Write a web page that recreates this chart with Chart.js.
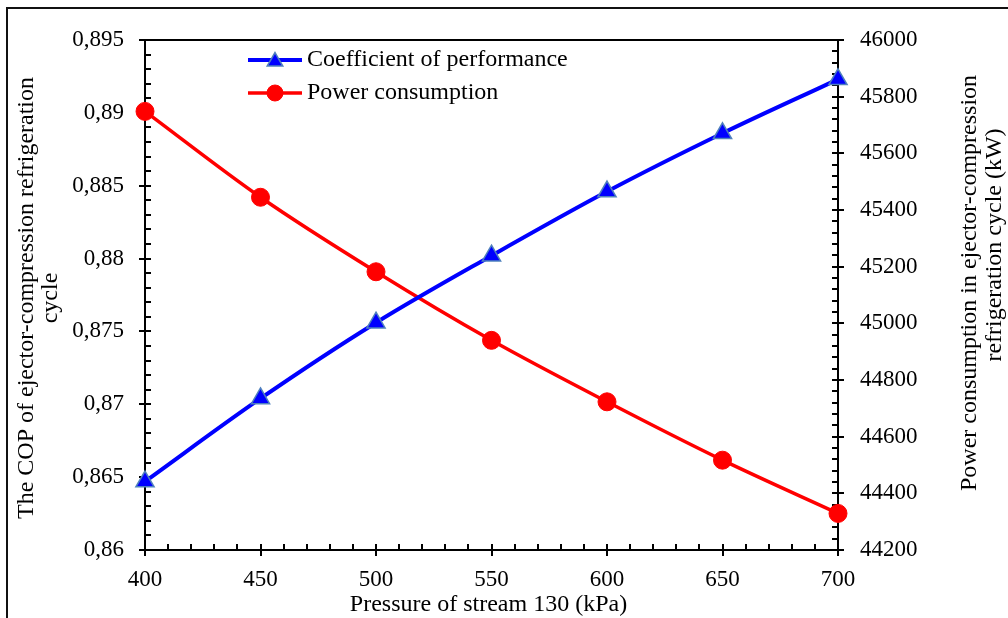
<!DOCTYPE html>
<html><head><meta charset="utf-8">
<script src="https://cdn.jsdelivr.net/npm/chart.js@4.4.1/dist/chart.umd.min.js"></script>
<style>html,body{margin:0;padding:0;background:#fff;}canvas{display:block;}</style>
</head><body>
<canvas id="c" width="1008" height="618"></canvas>
<script>
// ---- data ----
const pressure = [400, 450, 500, 550, 600, 650, 700];
const cop = [0.8647, 0.8704, 0.8756, 0.8802, 0.8846, 0.8886, 0.8923];
const power = [45748, 45445, 45182, 44940, 44723, 44517, 44329];
const xTicks = [400, 450, 500, 550, 600, 650, 700];
const copTicks = [0.86, 0.865, 0.87, 0.875, 0.88, 0.885, 0.89, 0.895];
const powerTicks = [44200, 44400, 44600, 44800, 45000, 45200, 45400, 45600, 45800, 46000];
const xMinorStep = 10, copMinorStep = 0.001, powerMinorStep = 40;
const seriesLabels = ['Coefficient of performance', 'Power consumption'];
const xTitle = 'Pressure of stream 130 (kPa)';
const yTitle = ['The COP of ejector-compression refrigeration', 'cycle'];
const y1Title = ['Power consumption in ejector-compression', 'refrigeration cycle (kW)'];

const FONT = 'Liberation Serif';
const fmtComma = v => String(+v.toFixed(4)).replace('.', ',');

const axesPlugin = {
  id: 'axesDeco',
  beforeDatasetsDraw(chart) {
    const ctx = chart.ctx, a = chart.chartArea;
    const sx = chart.scales.x, sy = chart.scales.y, sy1 = chart.scales.y1;
    ctx.save();
    ctx.strokeStyle = '#000';
    ctx.lineWidth = 2;
    ctx.beginPath(); ctx.moveTo(a.left - 1, a.top); ctx.lineTo(a.right + 1, a.top); ctx.stroke();
    const minorLen = 6, majOut = 6, majIn = 6;
    for (let v = sx.min; v <= sx.max + 1e-9; v += xMinorStep) {
      const px = Math.round(sx.getPixelForValue(v));
      const major = xTicks.some(t => Math.abs(t - v) < 1e-6);
      ctx.beginPath();
      ctx.moveTo(px, a.bottom + (major ? majOut : 0));
      ctx.lineTo(px, a.bottom - (major ? majIn : minorLen));
      ctx.stroke();
    }
    const nL = Math.round((sy.max - sy.min) / copMinorStep);
    for (let i = 0; i <= nL; i++) {
      const v = sy.min + i * copMinorStep;
      const py = Math.round(sy.getPixelForValue(v));
      const major = copTicks.some(t => Math.abs(t - v) < 1e-7);
      ctx.beginPath();
      ctx.moveTo(a.left - (major ? majOut : 0), py);
      ctx.lineTo(a.left + (major ? majIn : minorLen), py);
      ctx.stroke();
    }
    for (let v = sy1.min; v <= sy1.max + 1e-6; v += powerMinorStep) {
      const py = Math.round(sy1.getPixelForValue(v));
      const major = powerTicks.some(t => Math.abs(t - v) < 1e-6);
      ctx.beginPath();
      ctx.moveTo(a.right + (major ? majOut : 0), py);
      ctx.lineTo(a.right - (major ? majIn : minorLen), py);
      ctx.stroke();
    }
    ctx.restore();
  },
  afterDraw(chart) {
    const ctx = chart.ctx, a = chart.chartArea;
    ctx.save();
    ctx.strokeStyle = '#111';
    ctx.lineWidth = 2;
    ctx.beginPath(); ctx.moveTo(7, 620); ctx.lineTo(7, 8); ctx.lineTo(1010, 8); ctx.stroke();

    ctx.fillStyle = '#000';
    ctx.font = '24px "' + FONT + '"';
    ctx.textAlign = 'center';
    ctx.textBaseline = 'middle';
    ctx.fillText(xTitle, (a.left + a.right) / 2 - 3, 605);
    ctx.save();
    ctx.translate(27, 298); ctx.rotate(-Math.PI / 2);
    ctx.fillText(yTitle[0], 0, 0);
    ctx.fillText(yTitle[1], 0, 24);
    ctx.restore();
    ctx.save();
    ctx.translate(970, 283); ctx.rotate(-Math.PI / 2);
    ctx.fillText(y1Title[0], 0, 0);
    ctx.fillText(y1Title[1], 38, 25);
    ctx.restore();

    const ds = chart.data.datasets;
    const rows = [60, 93];
    ds.forEach((d, i) => {
      const y = rows[i];
      ctx.strokeStyle = d.borderColor;
      ctx.lineWidth = d.borderWidth;
      ctx.beginPath(); ctx.moveTo(248, y); ctx.lineTo(302, y); ctx.stroke();
      ctx.fillStyle = d.pointBackgroundColor;
      ctx.strokeStyle = d.pointBorderColor;
      ctx.lineWidth = d.pointBorderWidth;
      ctx.beginPath();
      if (d.pointStyle === 'triangle') {
        const r = 9;
        for (let k = 0; k < 3; k++) {
          const ang = k * 2 * Math.PI / 3;
          const px = 275 + Math.sin(ang) * r, py = y + 1.5 - Math.cos(ang) * r;
          k ? ctx.lineTo(px, py) : ctx.moveTo(px, py);
        }
        ctx.closePath();
      } else {
        ctx.arc(275, y, 8, 0, Math.PI * 2);
      }
      ctx.fill(); ctx.stroke();
      ctx.fillStyle = '#000';
      ctx.font = '24px "' + FONT + '"';
      ctx.textAlign = 'left';
      ctx.fillText(d.label, 307, y);
    });
    ctx.restore();
  }
};

new Chart(document.getElementById('c'), {
  type: 'line',
  data: {
    labels: pressure,
    datasets: [
      {
        label: seriesLabels[0], data: pressure.map((p, i) => ({x: p, y: cop[i]})), yAxisID: 'y',
        borderColor: '#0000FF', borderWidth: 4, pointStyle: 'triangle', pointRadius: 10.5,
        pointBackgroundColor: '#0000FF', pointBorderColor: '#4F81BD', pointBorderWidth: 1.5,
        cubicInterpolationMode: 'monotone', clip: false, order: 1
      },
      {
        label: seriesLabels[1], data: pressure.map((p, i) => ({x: p, y: power[i]})), yAxisID: 'y1',
        borderColor: '#FF0000', borderWidth: 3.5, pointStyle: 'circle', pointRadius: 9,
        pointBackgroundColor: '#FF0000', pointBorderColor: '#FF0000', pointBorderWidth: 1,
        cubicInterpolationMode: 'monotone', clip: false, order: 2
      }
    ]
  },
  options: {
    responsive: false, animation: false, devicePixelRatio: 1,
    layout: {padding: {top: 40, left: 0, right: 0, bottom: 0}},
    plugins: {legend: {display: false}, tooltip: {enabled: false}},
    elements: {point: {hoverRadius: 10}},
    scales: {
      x: {
        type: 'linear', min: 400, max: 700,
        afterBuildTicks: s => { s.ticks = xTicks.map(v => ({value: v})); },
        afterFit: s => { s.height = 68; },
        grid: {display: false, drawTicks: false},
        border: {display: true, color: '#000', width: 2},
        ticks: {color: '#000', font: {family: FONT, size: 23}, padding: 16, maxRotation: 0, autoSkip: false,
                callback: v => String(v)}
      },
      y: {
        type: 'linear', position: 'left', min: 0.86, max: 0.895,
        afterBuildTicks: s => { s.ticks = copTicks.map(v => ({value: v})); },
        afterFit: s => { s.width = 145; },
        grid: {display: false, drawTicks: false},
        border: {display: true, color: '#000', width: 2},
        ticks: {color: '#000', font: {family: FONT, size: 23}, padding: 21, autoSkip: false,
                callback: v => fmtComma(v)}
      },
      y1: {
        type: 'linear', position: 'right', min: 44200, max: 46000,
        afterBuildTicks: s => { s.ticks = powerTicks.map(v => ({value: v})); },
        afterFit: s => { s.width = 170; },
        grid: {display: false, drawTicks: false},
        border: {display: true, color: '#000', width: 2},
        ticks: {color: '#000', font: {family: FONT, size: 23}, padding: 22, autoSkip: false,
                callback: v => String(v)}
      }
    }
  },
  plugins: [axesPlugin]
});
</script>
</body></html>
